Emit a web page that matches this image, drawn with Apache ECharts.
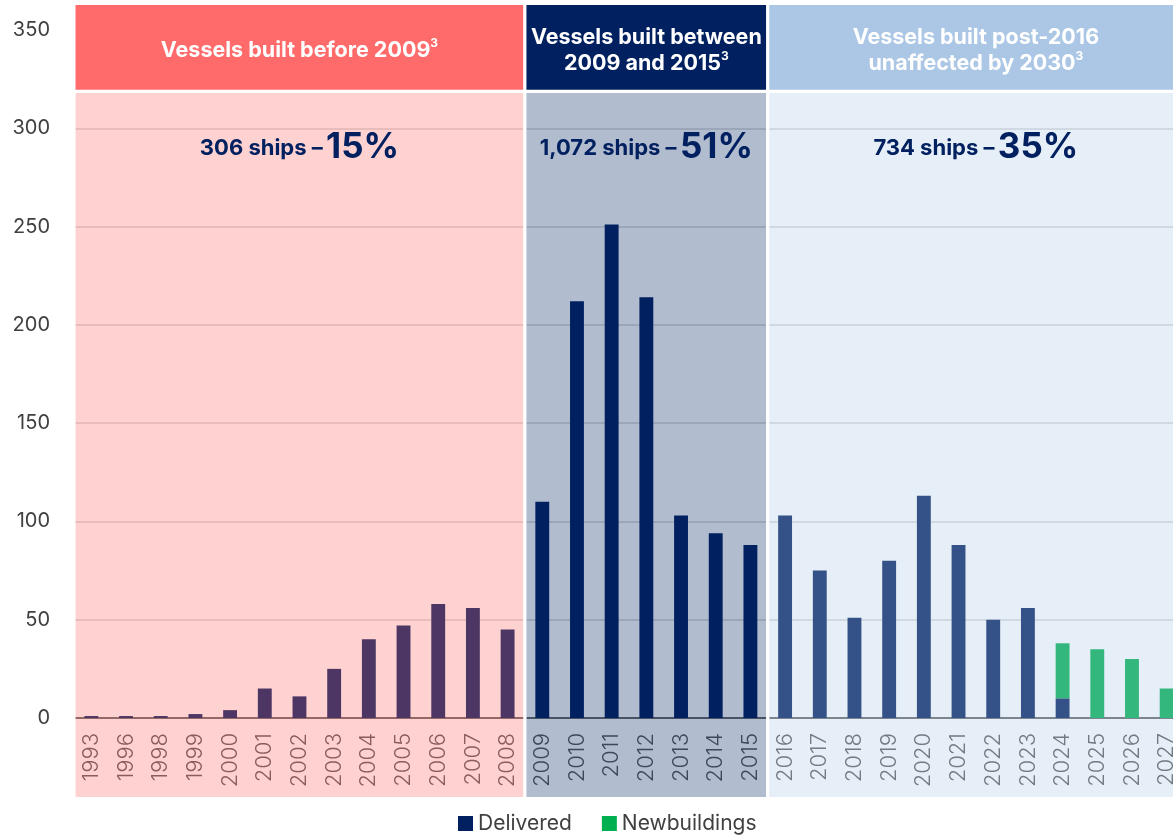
<!DOCTYPE html>
<html>
<head>
<meta charset="utf-8">
<script src="https://cdn.jsdelivr.net/npm/echarts@6/dist/echarts.min.js"></script>
<style>html,body{margin:0;padding:0;background:#fff}#c{width:1173px;height:835px}</style>
</head>
<body>
<div id="c"></div>
<script>
// ---- data ----
const years = ['1993','1996','1998','1999','2000','2001','2002','2003','2004','2005','2006','2007','2008',
  '2009','2010','2011','2012','2013','2014','2015',
  '2016','2017','2018','2019','2020','2021','2022','2023','2024','2025','2026','2027'];
const delivered = [1,1,1,2,4,15,11,25,40,47,58,56,45,
  110,212,251,214,103,94,88,
  103,75,51,80,113,88,50,56,10,0,0,0];
const newbuildings = [0,0,0,0,0,0,0,0,0,0,0,0,0,
  0,0,0,0,0,0,0,
  0,0,0,0,0,0,0,0,28,35,30,15];
const yTicks = [0,50,100,150,200,250,300,350];
// regions: first category index, last category index
const regionStart = [0, 13, 20];
const regionEnd = [12, 19, 31];
const regionTitles = ['Vessels built before 2009{s|3}', 'Vessels built between\n2009 and 2015{s|3}', 'Vessels built post-2016\nunaffected by 2030{s|3}'];
const regionShips = ['306 ships –', '1,072 ships –', '734 ships –'];
const regionPct = ['15%', '51%', '35%'];

// ---- styles ----
const NAVY = '#002060', GREEN = '#00B050';
const headerColors = ['#FF6B6B', '#002060', '#ABC7E5'];
const panelColors = ['rgba(255,107,107,0.3)', 'rgba(0,32,96,0.3)', 'rgba(171,199,229,0.3)'];
const FONT = 'Inter, "Open Sans", sans-serif';
// vertical layout in axis units
const HEADER_TOP = 363.5, SPLIT = 318.8, PANEL_BOTTOM = -41, HEADER_TEXT = 339.5, STATS_TEXT = 290;

const chart = echarts.init(document.getElementById('c'), null, {renderer: 'canvas'});

function renderRegion(params, api) {
  const s = api.value(0), e = api.value(1), i = params.dataIndex;
  const bw = api.size([1, 0])[0];
  const x0 = api.coord([s, 0])[0] - bw / 2;
  const x1 = api.coord([e, 0])[0] + bw / 2;
  const yHT = api.coord([s, HEADER_TOP])[1];
  const ySp = api.coord([s, SPLIT])[1];
  const yPB = api.coord([s, PANEL_BOTTOM])[1];
  const yHText = api.coord([s, HEADER_TEXT])[1];
  const yStats = api.coord([s, STATS_TEXT])[1];
  const cx = (x0 + x1) / 2;
  return {
    type: 'group',
    children: [
      {type: 'rect', shape: {x: x0, y: ySp, width: x1 - x0, height: yPB - ySp},
        style: {fill: panelColors[i], stroke: '#fff', lineWidth: 3}},
      {type: 'rect', shape: {x: x0, y: yHT, width: x1 - x0, height: ySp - yHT},
        style: {fill: headerColors[i], stroke: '#fff', lineWidth: 3}},
      {type: 'text', x: cx, y: yHText,
        style: {text: regionTitles[i], align: 'center', verticalAlign: 'middle',
          fill: '#fff', font: 'bold 21.5px ' + FONT, lineHeight: 26,
          rich: {s: {fontSize: 12, fontWeight: 'bold', fontFamily: FONT, fill: '#fff', verticalAlign: 'top', lineHeight: 14}}}},
      {type: 'text', x: cx, y: yStats,
        style: {text: '{a|' + regionShips[i] + '} {b|' + regionPct[i] + '}', align: 'center', verticalAlign: 'middle',
          rich: {
            a: {fontSize: 22, fontWeight: 'bold', fontFamily: FONT, fill: NAVY},
            b: {fontSize: 35, fontWeight: 'bold', fontFamily: FONT, fill: NAVY}
          }}}
    ]
  };
}

chart.setOption({
  animation: false,
  backgroundColor: '#fff',
  textStyle: {fontFamily: FONT},
  grid: {left: 74, width: 1110, top: 30, bottom: 117, containLabel: false, outerBoundsMode: 'none'},
  legend: {
    data: ['Delivered', 'Newbuildings'], left: 453, top: 808, icon: 'rect',
    itemWidth: 15, itemHeight: 15, itemGap: 30,
    textStyle: {fontSize: 21, color: '#404040', fontFamily: FONT}
  },
  xAxis: {
    type: 'category', data: years,
    axisLine: {lineStyle: {color: '#404040', width: 1.5}},
    axisTick: {show: false},
    axisLabel: {rotate: 90, fontSize: 22, fontWeight: 300, color: '#595959', margin: 15, interval: 0, fontFamily: FONT}
  },
  yAxis: {
    type: 'value', min: yTicks[0], max: yTicks[yTicks.length - 1], interval: yTicks[1] - yTicks[0],
    axisLine: {show: false}, axisTick: {show: false},
    axisLabel: {fontSize: 20, color: '#404040', margin: 24, fontFamily: FONT},
    splitLine: {lineStyle: {color: '#d6d6d6', width: 1.5}}
  },
  series: [
    {name: 'Delivered', type: 'bar', stack: 'v', data: delivered, barWidth: '40%', itemStyle: {color: NAVY}},
    {name: 'Newbuildings', type: 'bar', stack: 'v', data: newbuildings, barWidth: '40%', itemStyle: {color: GREEN}},
    {name: 'regions', type: 'custom', renderItem: renderRegion, clip: false, z: 10, silent: true,
      encode: {x: [0, 1]},
      data: regionStart.map((s, i) => [s, regionEnd[i]])}
  ]
});
</script>
</body>
</html>
